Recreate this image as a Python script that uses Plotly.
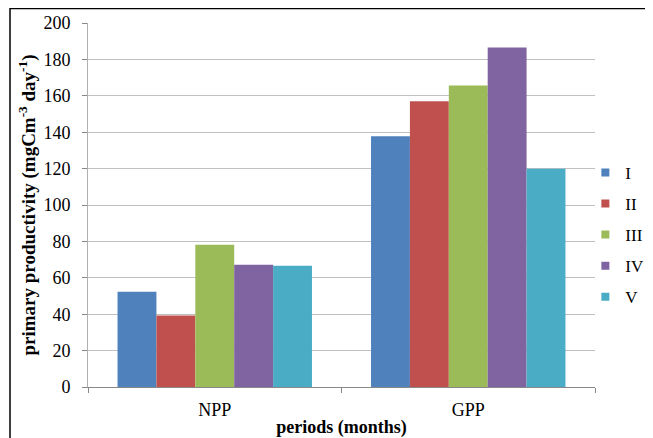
import plotly.graph_objects as go

categories = ["NPP", "GPP"]
series_names = ["I", "II", "III", "IV", "V"]
values_I = [52.3, 137.8]
values_II = [39.3, 157.0]
values_III = [78.2, 165.7]
values_IV = [67.2, 186.5]
values_V = [66.6, 119.9]
y_ticks = [0, 20, 40, 60, 80, 100, 120, 140, 160, 180, 200]

colors = ["#4F81BD", "#C0504D", "#9BBB59", "#8064A2", "#4BACC6"]
all_values = [values_I, values_II, values_III, values_IV, values_V]

FONT = "Liberation Serif, Times New Roman, serif"

fig = go.Figure()
for i, (name, vals) in enumerate(zip(series_names, all_values)):
    fig.add_trace(go.Bar(
        x=categories, y=vals, name=name,
        marker=dict(color=colors[i], line=dict(width=0)),
        showlegend=False,
    ))
# legend entries with small square symbols
for i, name in enumerate(series_names):
    fig.add_trace(go.Scatter(
        x=[None], y=[None], mode="markers", name=name,
        marker=dict(symbol="square", size=8, color=colors[i]),
        legendgroup=name, showlegend=True,
    ))

PW = 507
PH = 364

fig.update_layout(
    width=645, height=430,
    margin=dict(l=80, r=58, t=15, b=51, autoexpand=False),
    paper_bgcolor="white", plot_bgcolor="white",
    barmode="group", bargap=0.233, bargroupgap=0,
    font=dict(family=FONT, size=18, color="black"),
    showlegend=True,
    legend=dict(
        x=0.981, xanchor="left", y=0.418, yanchor="middle",
        font=dict(family=FONT, size=17, color="black"),
        tracegroupgap=6, itemwidth=30,
        bgcolor="rgba(0,0,0,0)", borderwidth=0,
    ),
    xaxis=dict(
        showline=True, linecolor="#888888", linewidth=1,
        ticks="outside", tickson="boundaries", ticklen=5, tickcolor="#888888",
        tickfont=dict(family=FONT, size=18),
        ticklabelstandoff=6,
        title=dict(text="<b>periods (months)</b>", font=dict(family=FONT, size=18), standoff=2),
        showgrid=False, automargin=False,
    ),
    yaxis=dict(
        range=[0, 200], tickvals=y_ticks,
        showline=True, linecolor="#B0B0B0", linewidth=1,
        ticks="outside", ticklen=5, tickcolor="#888888",
        ticklabelstandoff=8,
        showgrid=True, gridcolor="#C0C0C0", gridwidth=1,
        zeroline=False,
        tickfont=dict(family=FONT, size=18),
        title=dict(text="<b>primary productivity (mgCm<sup>-3</sup> day<sup>-1</sup>)</b>",
                   font=dict(family=FONT, size=19), standoff=2),
        automargin=False,
    ),
    shapes=[dict(type="rect", xref="paper", yref="paper",
                 x0=-78 / PW, x1=1 + 100 / PW, y0=-90 / PH, y1=1 + 14.5 / PH,
                 line=dict(color="black", width=1.5), fillcolor="rgba(0,0,0,0)", layer="below")],
)

fig.write_html("out.html")
